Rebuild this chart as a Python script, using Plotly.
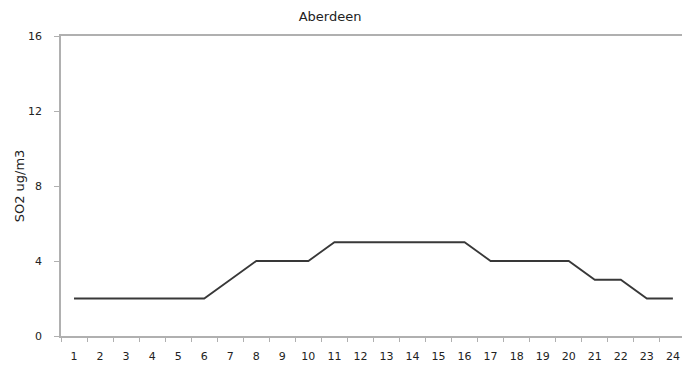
import plotly.graph_objects as go

hours = list(range(1, 25))
so2 = [2, 2, 2, 2, 2, 2, 3, 4, 4, 4, 5, 5, 5, 5, 5, 5, 4, 4, 4, 4, 3, 3, 2, 2]
y_ticks = [0, 4, 8, 12, 16]
title = "Aberdeen"
y_title = "SO2 ug/m3"

FAM = "DejaVu Sans, Verdana, sans-serif"
fig = go.Figure()
fig.add_trace(go.Scatter(x=hours, y=so2, mode="lines",
                         line=dict(color="#383838", width=1.8), showlegend=False))

fig.update_layout(
    width=682, height=365,
    margin=dict(l=61, r=0, t=36, b=29, autoexpand=False),
    paper_bgcolor="white", plot_bgcolor="white",
    font=dict(family=FAM, size=11, color="#222222"),
    title=dict(text=title, x=330 / 682, xanchor="center", y=1 - 16 / 365, yanchor="middle",
               font=dict(family=FAM, size=13, color="#222222")),
    xaxis=dict(range=[0.5, 24.35], tickmode="array", tickvals=hours,
               ticktext=[str(h) for h in hours], ticks="", showgrid=False,
               showline=True, linecolor="#b0b0b0", linewidth=1.5, mirror=True,
               zeroline=False, ticklabelstandoff=9, automargin=False,
               minor=dict(tickmode="linear", tick0=0.5, dtick=1, ticks="outside",
                          ticklen=4, tickcolor="#b0b0b0", tickwidth=1, showgrid=False)),
    yaxis=dict(range=[0, 16], tickmode="array", tickvals=y_ticks, ticks="outside",
               ticklen=5, tickcolor="#b0b0b0", showgrid=False, zeroline=False,
               showline=True, linecolor="#b0b0b0", linewidth=1.5, automargin=False,
               ticklabelstandoff=10,
               title=dict(text=y_title, standoff=0, font=dict(family=FAM, size=13))),
)
fig.write_html("out.html", config={"displayModeBar": False},
               post_script="document.body.style.margin='0';document.body.style.overflow='hidden';")
